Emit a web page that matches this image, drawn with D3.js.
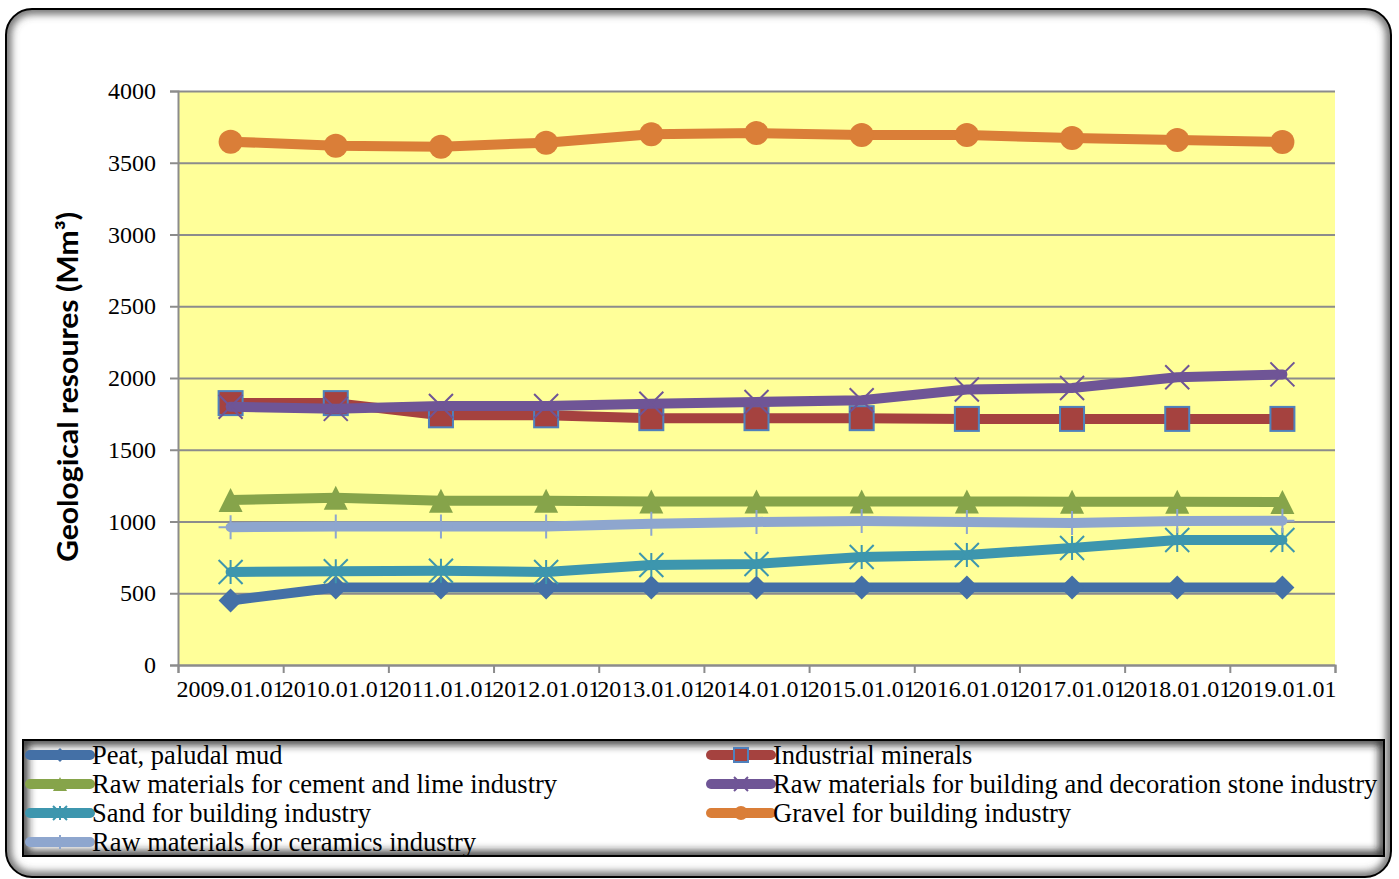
<!DOCTYPE html>
<html>
<head>
<meta charset="utf-8">
<script src="https://cdn.jsdelivr.net/npm/d3@7"></script>
<style>
  body { margin: 0; background: #fff; }
</style>
</head>
<body>
<svg id="chart"></svg>
<script>
// categories and values
const years = ['2009.01.01', '2010.01.01', '2011.01.01', '2012.01.01', '2013.01.01', '2014.01.01',
  '2015.01.01', '2016.01.01', '2017.01.01', '2018.01.01', '2019.01.01'];

const peat       = [450, 540, 540, 540, 540, 540, 540, 540, 540, 540, 540];
const industrial = [1825, 1825, 1740, 1740, 1720, 1720, 1720, 1715, 1715, 1715, 1715];
const cement     = [1150, 1165, 1145, 1145, 1140, 1140, 1140, 1140, 1138, 1138, 1136];
const stone      = [1800, 1785, 1805, 1805, 1820, 1833, 1845, 1920, 1930, 2005, 2025];
const sand       = [648, 653, 657, 648, 697, 704, 753, 767, 815, 871, 871];
const gravel     = [3647, 3619, 3612, 3640, 3698, 3707, 3693, 3693, 3672, 3659, 3645];
const ceramics   = [960, 965, 965, 965, 985, 997, 1003, 997, 990, 1003, 1006];

const yTicks = [0, 500, 1000, 1500, 2000, 2500, 3000, 3500, 4000];

const series = [
  { name: 'Peat, paludal mud', values: peat, color: '#4470A6', marker: 'diamond' },
  { name: 'Industrial minerals', values: industrial, color: '#A5423F', marker: 'square' },
  { name: 'Raw materials for cement and lime industry', values: cement, color: '#86A44A', marker: 'triangle' },
  { name: 'Raw materials for building and decoration stone industry', values: stone, color: '#6F5596', marker: 'x' },
  { name: 'Sand for building industry', values: sand, color: '#3D96AE', marker: 'star' },
  { name: 'Gravel for building industry', values: gravel, color: '#DA7E38', marker: 'circle' },
  { name: 'Raw materials for ceramics industry', values: ceramics, color: '#8EA6CE', marker: 'plus' }
];

const serif = '"Liberation Serif", "Times New Roman", serif';
const W = 1399, H = 879;
const margin = { top: 91, right: 64, bottom: 214, left: 178 };
const width = W - margin.left - margin.right;
const height = H - margin.top - margin.bottom;

const svg = d3.select('#chart').attr('width', W).attr('height', H);
const defs = svg.append('defs');

defs.append('filter').attr('id', 'soft')
  .attr('x', '-10%').attr('y', '-10%').attr('width', '120%').attr('height', '120%')
  .append('feGaussianBlur').attr('stdDeviation', 4);

// box with a dark shading just inside its border
function shadedBox(id, bx, by, bw, bh, r, shade) {
  defs.append('clipPath').attr('id', id)
    .append('rect').attr('x', bx).attr('y', by).attr('width', bw).attr('height', bh).attr('rx', r).attr('ry', r);
  svg.append('rect').attr('x', bx).attr('y', by).attr('width', bw).attr('height', bh)
    .attr('rx', r).attr('ry', r).attr('fill', '#fff');
  svg.append('g').attr('clip-path', `url(#${id})`)
    .append('rect').attr('x', bx).attr('y', by).attr('width', bw).attr('height', bh)
    .attr('rx', r).attr('ry', r)
    .attr('fill', 'none').attr('stroke', shade).attr('stroke-width', 9)
    .attr('filter', 'url(#soft)');
  svg.append('rect').attr('x', bx).attr('y', by).attr('width', bw).attr('height', bh)
    .attr('rx', r).attr('ry', r)
    .attr('fill', 'none').attr('stroke', '#000').attr('stroke-width', 2);
}

// outer frame
shadedBox('frameClip', 6, 9, 1385, 868, 26, '#555');

const chart = svg.append('g').attr('transform', `translate(${margin.left},${margin.top})`);

const x = d3.scaleBand().domain(years).range([0, width]).paddingInner(0).paddingOuter(0);
const xEdge = d3.scaleLinear().domain([0, years.length]).range([0, width]);
const y = d3.scaleLinear().domain([0, 4000]).range([height, 0]);
const cx = d => x(d) + x.bandwidth() / 2;

// plot background
chart.append('rect').attr('width', width).attr('height', height).attr('fill', '#FFFF99');

// gridlines
chart.append('g')
  .call(d3.axisLeft(y).tickValues(yTicks).tickSize(-width).tickFormat(''))
  .call(g => g.select('.domain').remove())
  .call(g => g.selectAll('line').attr('stroke', '#8C8C8C').attr('stroke-width', 2));

// y axis
chart.append('g')
  .call(d3.axisLeft(y).tickValues(yTicks).tickSize(8).tickPadding(14).tickFormat(d3.format('d')))
  .call(g => g.select('.domain').attr('stroke', '#8C8C8C').attr('stroke-width', 2))
  .call(g => g.selectAll('line').attr('stroke', '#8C8C8C').attr('stroke-width', 2))
  .call(g => g.selectAll('text').attr('dy', '0.32em')
    .style('font-family', serif).style('font-size', '24px').attr('fill', '#000'));

// x axis: ticks at category edges, labels at centres
chart.append('g')
  .attr('transform', `translate(0,${height})`)
  .call(d3.axisBottom(xEdge).tickValues(d3.range(years.length + 1)).tickSize(8).tickFormat(''))
  .call(g => g.select('.domain').attr('stroke', '#8C8C8C').attr('stroke-width', 2))
  .call(g => g.selectAll('line').attr('stroke', '#8C8C8C').attr('stroke-width', 2));
chart.append('g')
  .attr('transform', `translate(0,${height})`)
  .call(d3.axisBottom(x).tickSize(0).tickPadding(15))
  .call(g => g.select('.domain').remove())
  .call(g => g.selectAll('text')
    .style('font-family', serif).style('font-size', '24px').attr('fill', '#000'));

// y axis title
svg.append('text')
  .attr('transform', `translate(78,387) rotate(-90)`)
  .attr('text-anchor', 'middle')
  .attr('textLength', 350)
  .attr('lengthAdjust', 'spacingAndGlyphs')
  .style('font-family', 'Lato, "Open Sans", sans-serif')
  .style('font-weight', 'bold')
  .style('font-size', '28px')
  .text('Geological resoures (Mm³)');

// marker shapes
function marker(sel, type, color, s) {
  const h = s / 2;
  if (type === 'diamond') {
    sel.append('path').attr('d', `M0,${-h}L${h},0L0,${h}L${-h},0Z`).attr('fill', color);
  } else if (type === 'square') {
    sel.append('rect').attr('x', -h).attr('y', -h).attr('width', s).attr('height', s)
      .attr('fill', color).attr('stroke', '#4F81BD').attr('stroke-width', 2);
  } else if (type === 'triangle') {
    sel.append('path').attr('d', `M0,${-h}L${h},${h}L${-h},${h}Z`).attr('fill', color);
  } else if (type === 'circle') {
    sel.append('circle').attr('r', h).attr('fill', color);
  } else if (type === 'x') {
    sel.append('path').attr('d', `M${-h},${-h}L${h},${h}M${h},${-h}L${-h},${h}`)
      .attr('stroke', color).attr('stroke-width', 2);
  } else if (type === 'star') {
    sel.append('path').attr('d', `M${-h},${-h}L${h},${h}M${h},${-h}L${-h},${h}M0,${-h}L0,${h}`)
      .attr('stroke', color).attr('stroke-width', 2);
  } else if (type === 'plus') {
    sel.append('path').attr('d', `M0,${-h}L0,${h}M${-h},0L${h},0`)
      .attr('stroke', color).attr('stroke-width', 2);
  }
}

const line = d3.line().x((d, i) => cx(years[i])).y(d => y(d));

series.forEach(s => {
  const g = chart.append('g');
  g.append('path')
    .datum(s.values)
    .attr('d', line)
    .attr('fill', 'none')
    .attr('stroke', s.color)
    .attr('stroke-width', 10)
    .attr('stroke-linejoin', 'round')
    .attr('stroke-linecap', 'round');
  g.selectAll('.pt')
    .data(s.values)
    .join('g')
    .attr('class', 'pt')
    .attr('transform', (d, i) => `translate(${cx(years[i])},${y(d)})`)
    .each(function () { marker(d3.select(this), s.marker, s.color, 24); });
});

// legend
shadedBox('legendClip', 23, 740, 1361, 116, 0, '#222');
const lg = svg.append('g');

const colX = [30, 711];
const rowY = [755, 784, 813, 842];
series.forEach((s, i) => {
  const col = i % 2, row = Math.floor(i / 2);
  const item = lg.append('g').attr('transform', `translate(${colX[col]},${rowY[row]})`);
  item.append('line').attr('x1', 0).attr('x2', 60)
    .attr('stroke', s.color).attr('stroke-width', 10).attr('stroke-linecap', 'round');
  const m = item.append('g').attr('transform', 'translate(30,0)');
  marker(m, s.marker, s.color, 14);
  item.append('text').attr('x', 62).attr('y', 0).attr('dy', '0.33em')
    .style('font-family', serif).style('font-size', '26.5px').attr('fill', '#000')
    .text(s.name);
});
</script>
</body>
</html>
